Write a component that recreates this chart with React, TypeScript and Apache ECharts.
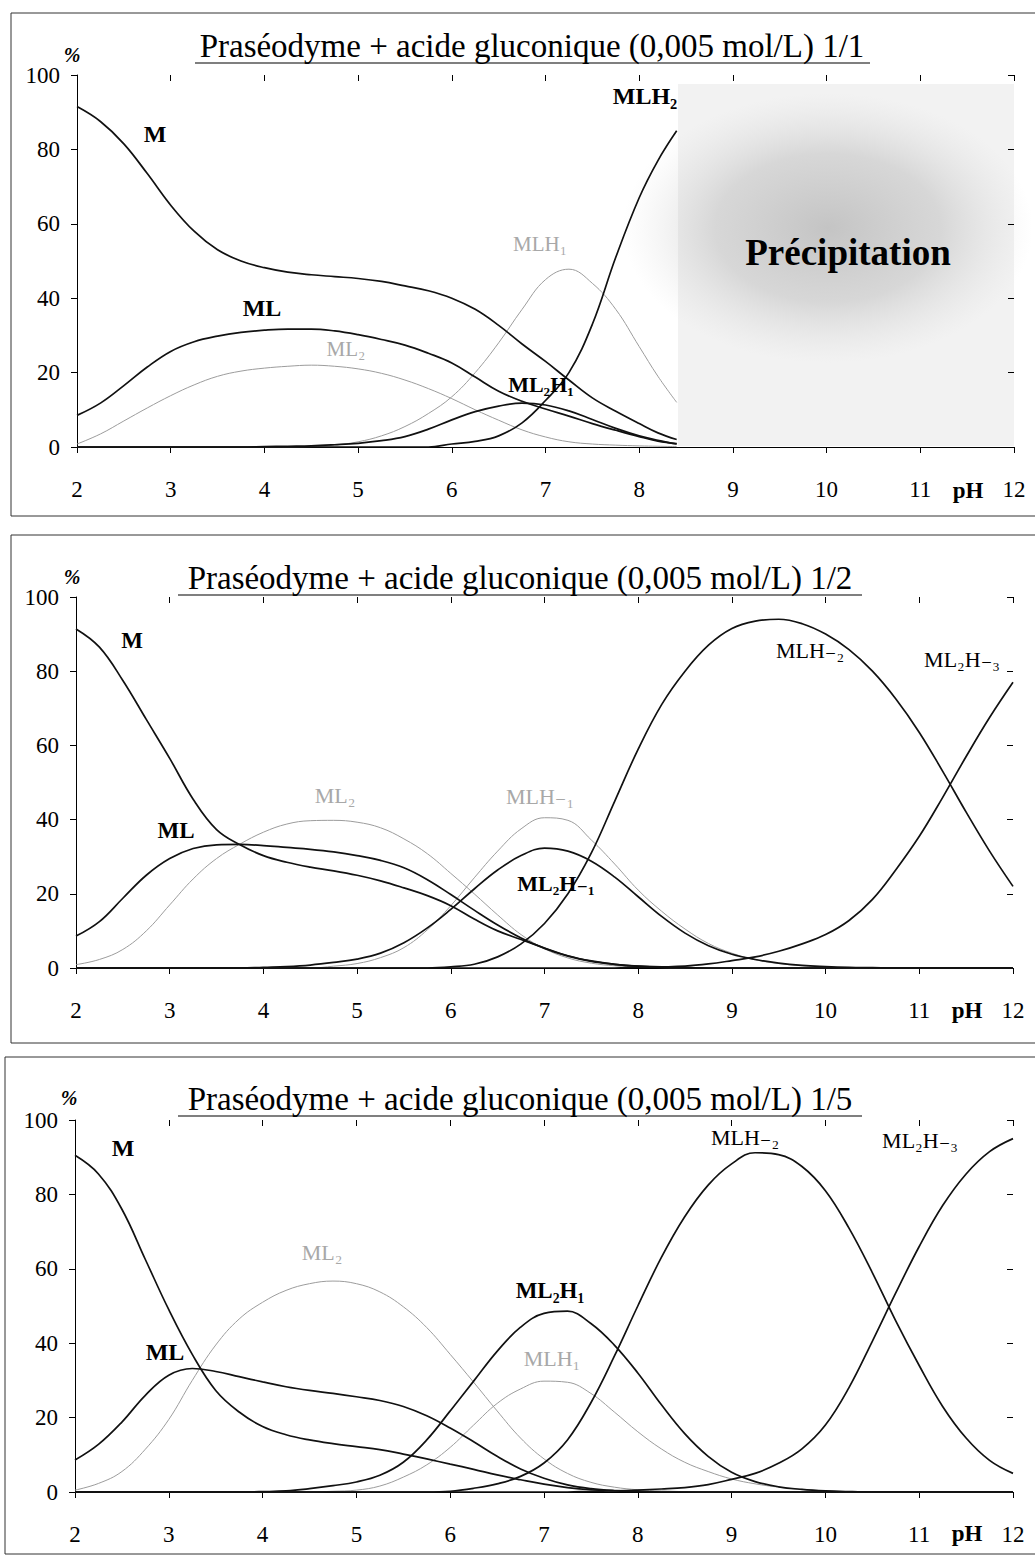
import React, { useEffect, useRef } from "react";
import * as echarts from "echarts";

const FONT = '"Liberation Serif", "DejaVu Serif", serif';

// ---------- Panel 1 : 1/1 (curves stop at pH 8.4, precipitation beyond) ----------
const P1_PH = [2, 2.25, 2.5, 2.75, 3, 3.25, 3.5, 3.75, 4, 4.25, 4.5, 4.75, 5, 5.25, 5.5, 5.75, 6, 6.25, 6.5, 6.75, 7, 7.25, 7.5, 7.75, 8, 8.2, 8.4];
const P1_M = [91.5, 87.5, 81.5, 73.5, 65, 58, 53, 50, 48.2, 47, 46.3, 45.8, 45.3, 44.5, 43.3, 42, 40, 37, 32.7, 27.7, 23, 18, 13.2, 9.6, 6.3, 3.8, 2];
const P1_ML = [8.5, 11.8, 16.5, 21.5, 25.7, 28.3, 29.8, 30.8, 31.4, 31.7, 31.7, 31.2, 30.2, 28.9, 27.4, 25.2, 22.6, 18.8, 15, 12.3, 10.2, 8.3, 6.3, 4.5, 2.8, 1.6, 0.9];
const P1_ML2 = [0.8, 3.5, 7, 10.5, 13.8, 16.7, 19, 20.4, 21.2, 21.7, 22, 21.7, 21, 19.8, 18, 15.7, 13, 10, 7.2, 4.6, 2.7, 1.4, 0.8, 0.5, 0.3, 0.2, 0.1];
const P1_MLH1 = [0, 0, 0, 0, 0, 0, 0, 0, 0, 0, 0.1, 0.5, 1.4, 3, 5.5, 9, 13.5, 20, 28, 37, 45, 47.8, 44, 37, 27, 19, 12];
const P1_ML2H1 = [0, 0, 0, 0, 0, 0, 0, 0, 0.1, 0.2, 0.3, 0.6, 1, 1.7, 2.8, 4.8, 7.3, 9.5, 11, 11.8, 11.3, 9.7, 7.4, 5, 3, 1.8, 0.8];
const P1_MLH2 = [0, 0, 0, 0, 0, 0, 0, 0, 0, 0, 0, 0, 0, 0, 0, 0, 0.8, 1.5, 3, 6.5, 12.5, 20, 33, 51, 67, 77, 85];

// ---------- Panels 2 and 3 share the pH grid ----------
const PH = [2, 2.25, 2.5, 2.75, 3, 3.25, 3.5, 3.75, 4, 4.25, 4.5, 4.75, 5, 5.25, 5.5, 5.75, 6, 6.25, 6.5, 6.75, 7, 7.25, 7.5, 7.75, 8, 8.25, 8.5, 8.75, 9, 9.25, 9.5, 9.75, 10, 10.25, 10.5, 10.75, 11, 11.25, 11.5, 11.75, 12];

// Panel 2 : 1/2
const P2_M = [91.4, 86.5, 77.5, 67, 56.5, 45.5, 37.3, 33.2, 30.3, 28.5, 27.2, 26.2, 25, 23.5, 21.6, 19.5, 16.8, 13.2, 10, 7.7, 5.4, 3.3, 1.9, 1, 0.5, 0.3, 0.1, 0, 0, 0, 0, 0, 0, 0, 0, 0, 0, 0, 0, 0, 0];
const P2_ML = [8.6, 12.5, 18.8, 25, 29.5, 32.2, 33.2, 33.3, 33, 32.5, 32, 31.3, 30.3, 29, 27, 23.8, 19.8, 15.6, 11.6, 8.1, 5.3, 3.2, 1.8, 1, 0.5, 0.2, 0.1, 0, 0, 0, 0, 0, 0, 0, 0, 0, 0, 0, 0, 0, 0];
const P2_ML2 = [0.9, 2.3, 5, 10, 17, 24, 29.5, 33.4, 36.6, 38.8, 39.7, 39.8, 39.3, 37.8, 34.8, 30.8, 25.5, 20, 14.3, 9, 5.2, 2.7, 1.3, 0.6, 0.3, 0.1, 0, 0, 0, 0, 0, 0, 0, 0, 0, 0, 0, 0, 0, 0, 0];
const P2_ML2H1 = [0, 0, 0, 0, 0, 0, 0, 0, 0.2, 0.4, 0.8, 1.5, 2.4, 4, 6.8, 10.8, 15.8, 21.3, 26.4, 30.3, 32.3, 31.5, 28.8, 24.5, 19.2, 13.9, 9.4, 6, 3.7, 2.3, 1.3, 0.7, 0.4, 0.2, 0.1, 0, 0, 0, 0, 0, 0];
const P2_MLH1 = [0, 0, 0, 0, 0, 0, 0, 0, 0, 0, 0, 0.5, 1.2, 2.8, 5.5, 10.3, 16.8, 24.3, 31.5, 37.5, 40.5, 39.8, 34.5, 28, 21, 15.3, 10.5, 6.6, 4, 2.2, 1.2, 0.6, 0.3, 0, 0, 0, 0, 0, 0, 0, 0];
const P2_MLH2 = [0, 0, 0, 0, 0, 0, 0, 0, 0, 0, 0, 0, 0, 0, 0, 0, 0.3, 1, 3, 6.5, 12, 20, 31, 45, 59, 71, 80, 87, 91.5, 93.5, 94, 92.8, 90, 85.8, 80, 72.5, 63.5, 53, 42, 31.5, 22];
const P2_ML2H3 = [0, 0, 0, 0, 0, 0, 0, 0, 0, 0, 0, 0, 0, 0, 0, 0, 0, 0, 0, 0, 0, 0, 0, 0, 0.2, 0.3, 0.5, 1.1, 2, 3, 4.5, 6.5, 9, 12.8, 18.5, 26.5, 35.5, 46, 57, 67.5, 77];

// Panel 3 : 1/5
const P3_M = [90.5, 85.5, 76, 62.5, 49, 37, 27.3, 21.5, 17.6, 15.4, 14, 13, 12.2, 11.4, 10.2, 8.9, 7.5, 6.1, 4.6, 3.3, 2.1, 1.2, 0.6, 0.3, 0.1, 0, 0, 0, 0, 0, 0, 0, 0, 0, 0, 0, 0, 0, 0, 0, 0];
const P3_ML = [8.6, 12.8, 18.8, 26, 31.4, 33.2, 32.4, 31, 29.6, 28.3, 27.3, 26.5, 25.6, 24.6, 23, 20.5, 17.2, 13.5, 9.6, 6.2, 3.7, 1.9, 0.9, 0.4, 0.2, 0, 0, 0, 0, 0, 0, 0, 0, 0, 0, 0, 0, 0, 0, 0, 0];
const P3_ML2 = [0.5, 2.3, 5.5, 11.5, 19.5, 30, 39.5, 46.5, 51, 54.2, 56, 56.7, 56, 53.8, 49.8, 44.2, 37, 29.5, 21.8, 14.5, 8.9, 5, 2.6, 1.3, 0.6, 0.3, 0.1, 0, 0, 0, 0, 0, 0, 0, 0, 0, 0, 0, 0, 0, 0];
const P3_ML2H1 = [0, 0, 0, 0, 0, 0, 0, 0, 0.1, 0.3, 0.9, 1.7, 2.7, 4.5, 8, 14, 21.8, 29.8, 37.8, 44.3, 48, 48.6, 45.3, 39.5, 32, 23.5, 15.7, 9.6, 5.3, 2.8, 1.4, 0.7, 0.3, 0.1, 0, 0, 0, 0, 0, 0, 0];
const P3_MLH1 = [0, 0, 0, 0, 0, 0, 0, 0, 0, 0, 0, 0.2, 0.5, 1.6, 4, 7.3, 12, 18, 23.8, 27.7, 29.8, 29.5, 26.5, 21.5, 16.2, 11.6, 8, 5.5, 3.5, 2.2, 1.3, 0.7, 0.3, 0, 0, 0, 0, 0, 0, 0, 0];
const P3_MLH2 = [0, 0, 0, 0, 0, 0, 0, 0, 0, 0, 0, 0, 0, 0, 0, 0, 0.2, 1, 2.2, 4.2, 7.8, 14, 24, 36.5, 50, 63, 74, 82.5, 88.2, 91.2, 90.7, 87.5, 81, 71, 59, 46, 34, 23, 14.5, 8.5, 5];
const P3_ML2H3 = [0, 0, 0, 0, 0, 0, 0, 0, 0, 0, 0, 0, 0, 0, 0, 0, 0, 0, 0, 0, 0, 0, 0.2, 0.3, 0.5, 0.8, 1.2, 2, 3.4, 5, 7.7, 11.6, 18, 28, 40.5, 53.5, 66, 77, 85.5, 91.5, 95];

const X_TICKS = [2, 3, 4, 5, 6, 7, 8, 9, 10, 11, 12];
const Y_TICKS = [0, 20, 40, 60, 80, 100];

const TITLES = [
  "Praséodyme + acide gluconique (0,005 mol/L) 1/1",
  "Praséodyme + acide gluconique (0,005 mol/L) 1/2",
  "Praséodyme + acide gluconique (0,005 mol/L) 1/5",
];

const BLACK = "#111";
const GREY = "#9c9c9c";

type Spec = { ph: number[]; vals: number[]; grey: boolean };

const PANELS: Spec[][] = [
  [
    { ph: P1_PH, vals: P1_M, grey: false },
    { ph: P1_PH, vals: P1_ML, grey: false },
    { ph: P1_PH, vals: P1_ML2, grey: true },
    { ph: P1_PH, vals: P1_MLH1, grey: true },
    { ph: P1_PH, vals: P1_ML2H1, grey: false },
    { ph: P1_PH, vals: P1_MLH2, grey: false },
  ],
  [
    { ph: PH, vals: P2_M, grey: false },
    { ph: PH, vals: P2_ML, grey: false },
    { ph: PH, vals: P2_ML2, grey: true },
    { ph: PH, vals: P2_MLH1, grey: true },
    { ph: PH, vals: P2_ML2H1, grey: false },
    { ph: PH, vals: P2_MLH2, grey: false },
    { ph: PH, vals: P2_ML2H3, grey: false },
  ],
  [
    { ph: PH, vals: P3_M, grey: false },
    { ph: PH, vals: P3_ML, grey: false },
    { ph: PH, vals: P3_ML2, grey: true },
    { ph: PH, vals: P3_MLH1, grey: true },
    { ph: PH, vals: P3_ML2H1, grey: false },
    { ph: PH, vals: P3_MLH2, grey: false },
    { ph: PH, vals: P3_ML2H3, grey: false },
  ],
];

// [text, x, y, grey, bold, size]
const LABELS: [string, number, number, boolean, boolean, number][] = [
  ["M", 155, 134, false, true, 24],
  ["ML", 262, 308, false, true, 24],
  ["ML₂", 346, 349, true, false, 21],
  ["MLH₁", 540, 244, true, false, 21],
  ["ML₂H₁", 541, 384, false, true, 22],
  ["MLH₂", 645, 96, false, true, 24],

  ["M", 132, 640, false, true, 23],
  ["ML", 176, 830, false, true, 23],
  ["ML₂", 335, 795, true, false, 22],
  ["MLH₋₁", 540, 796, true, false, 22],
  ["ML₂H₋₁", 556, 883, false, true, 22],
  ["MLH₋₂", 810, 650, false, false, 22],
  ["ML₂H₋₃", 962, 659, false, false, 22],

  ["M", 123, 1148, false, true, 24],
  ["ML", 165, 1352, false, true, 24],
  ["ML₂", 322, 1252, true, false, 22],
  ["ML₂H₁", 550, 1290, false, true, 23],
  ["MLH₁", 552, 1358, true, false, 22],
  ["MLH₋₂", 745, 1137, false, false, 22],
  ["ML₂H₋₃", 920, 1140, false, false, 22],
];

const GRIDS = [
  { left: 77, top: 75, width: 937, height: 372 },
  { left: 76, top: 597, width: 937, height: 371 },
  { left: 75, top: 1120, width: 938, height: 372 },
];

const TITLE_POS = [
  { cx: 532, cy: 46, ul: 63, x1: 195, x2: 870 },
  { cx: 520, cy: 578, ul: 595, x1: 178, x2: 862 },
  { cx: 520, cy: 1099, ul: 1116, x1: 178, x2: 862 },
];

const BOXES = [
  { x: 11, y: 13, h: 503 },
  { x: 11, y: 535, h: 508 },
  { x: 5, y: 1057, h: 497 },
];

export default function App() {
  const ref = useRef<HTMLDivElement>(null);

  useEffect(() => {
    if (!ref.current) return;
    const chart = echarts.init(ref.current, undefined, { renderer: "svg" });

    const xAxis: any[] = [];
    const yAxis: any[] = [];
    const series: any[] = [];

    GRIDS.forEach((_, k) => {
      const axisFont = { fontFamily: FONT, fontSize: 23, color: "#000" };
      xAxis.push({
        gridIndex: k, type: "value", min: X_TICKS[0], max: X_TICKS[X_TICKS.length - 1], interval: 1,
        axisLine: { show: true, onZero: false, lineStyle: { color: "#000", width: 1 } },
        axisTick: { show: true, inside: false, length: 6, lineStyle: { color: "#000" } },
        axisLabel: { ...axisFont, margin: 31 },
        splitLine: { show: false },
      });
      xAxis.push({
        gridIndex: k, type: "value", min: X_TICKS[0], max: X_TICKS[X_TICKS.length - 1], interval: 1,
        axisLine: { show: false, onZero: false },
        axisTick: { show: true, inside: true, length: 6, lineStyle: { color: "#000" } },
        axisLabel: { show: false },
        splitLine: { show: false },
      });
      yAxis.push({
        gridIndex: k, type: "value", min: Y_TICKS[0], max: Y_TICKS[Y_TICKS.length - 1], interval: 20,
        axisLine: { show: true, onZero: false, lineStyle: { color: "#000", width: 1 } },
        axisTick: { show: true, inside: false, length: 6, lineStyle: { color: "#000" } },
        axisLabel: { ...axisFont, margin: 17 },
        splitLine: { show: false },
      });
      yAxis.push({
        gridIndex: k, type: "value", min: Y_TICKS[0], max: Y_TICKS[Y_TICKS.length - 1], interval: 20,
        axisLine: { show: false, onZero: false },
        axisTick: { show: true, inside: true, length: 6, lineStyle: { color: "#000" } },
        axisLabel: { show: false },
        splitLine: { show: false },
      });

      PANELS[k].forEach((s) => {
        series.push({
          type: "line",
          xAxisIndex: 2 * k,
          yAxisIndex: 2 * k,
          data: s.ph.map((p, i) => [p, s.vals[i]]),
          showSymbol: false,
          smooth: 0.4,
          lineStyle: { color: s.grey ? GREY : BLACK, width: s.grey ? 1 : 1.7 },
          z: s.grey ? 2 : 3,
          silent: true,
        });
      });
    });

    const graphic: any[] = [];

    // precipitation zone (panel 1)
    graphic.push({
      type: "rect", z: 0,
      shape: { x: 678, y: 84, width: 336, height: 362 },
      style: { fill: "rgba(0,0,0,0.05)" },
    });
    graphic.push({
      type: "ellipse", z: 0,
      shape: { cx: 828, cy: 228, rx: 205, ry: 135 },
      style: {
        fill: new echarts.graphic.RadialGradient(0.5, 0.5, 0.5, [
          { offset: 0, color: "rgba(150,150,150,0.5)" },
          { offset: 0.55, color: "rgba(165,165,165,0.35)" },
          { offset: 1, color: "rgba(200,200,200,0)" },
        ]),
      },
    });
    graphic.push({
      type: "text", z: 10, x: 848, y: 252,
      style: { text: "Précipitation", font: `bold 37px ${FONT}`, fill: "#000", align: "center", verticalAlign: "middle" },
    });

    BOXES.forEach((b) => {
      graphic.push({
        type: "rect", z: 1,
        shape: { x: b.x, y: b.y, width: 1100, height: b.h },
        style: { fill: "none", stroke: "#333", lineWidth: 1 },
      });
    });

    TITLE_POS.forEach((t, k) => {
      graphic.push({
        type: "text", z: 10, x: t.cx, y: t.cy,
        style: { text: TITLES[k], font: `33px ${FONT}`, fill: "#000", align: "center", verticalAlign: "middle" },
      });
      graphic.push({
        type: "line", z: 10,
        shape: { x1: t.x1, y1: t.ul, x2: t.x2, y2: t.ul },
        style: { stroke: "#000", lineWidth: 1.2 },
      });
    });

    // "%" and "pH"
    [[72, 55], [72, 577], [69, 1098]].forEach(([x, y]) => {
      graphic.push({
        type: "text", z: 10, x, y,
        style: { text: "%", font: `italic bold 20px ${FONT}`, fill: "#000", align: "center", verticalAlign: "middle" },
      });
    });
    [[968, 490], [967, 1010], [967, 1533]].forEach(([x, y]) => {
      graphic.push({
        type: "text", z: 10, x, y,
        style: { text: "pH", font: `bold 23px ${FONT}`, fill: "#000", align: "center", verticalAlign: "middle" },
      });
    });

    LABELS.forEach(([text, x, y, grey, bold, size]) => {
      graphic.push({
        type: "text", z: 10, x, y,
        style: {
          text,
          font: `${bold ? "bold " : ""}${size}px ${FONT}`,
          fill: grey ? "#a8a8a8" : "#000",
          align: "center", verticalAlign: "middle",
        },
      });
    });

    chart.setOption({
      animation: false,
      backgroundColor: "#fff",
      grid: GRIDS.map((g) => ({ ...g, containLabel: false })),
      xAxis,
      yAxis,
      series,
      graphic,
    });

    return () => chart.dispose();
  }, []);

  return (
    <div
      ref={ref}
      style={{ position: "absolute", left: 0, top: 0, width: 1035, height: 1557, background: "#fff" }}
    />
  );
}
